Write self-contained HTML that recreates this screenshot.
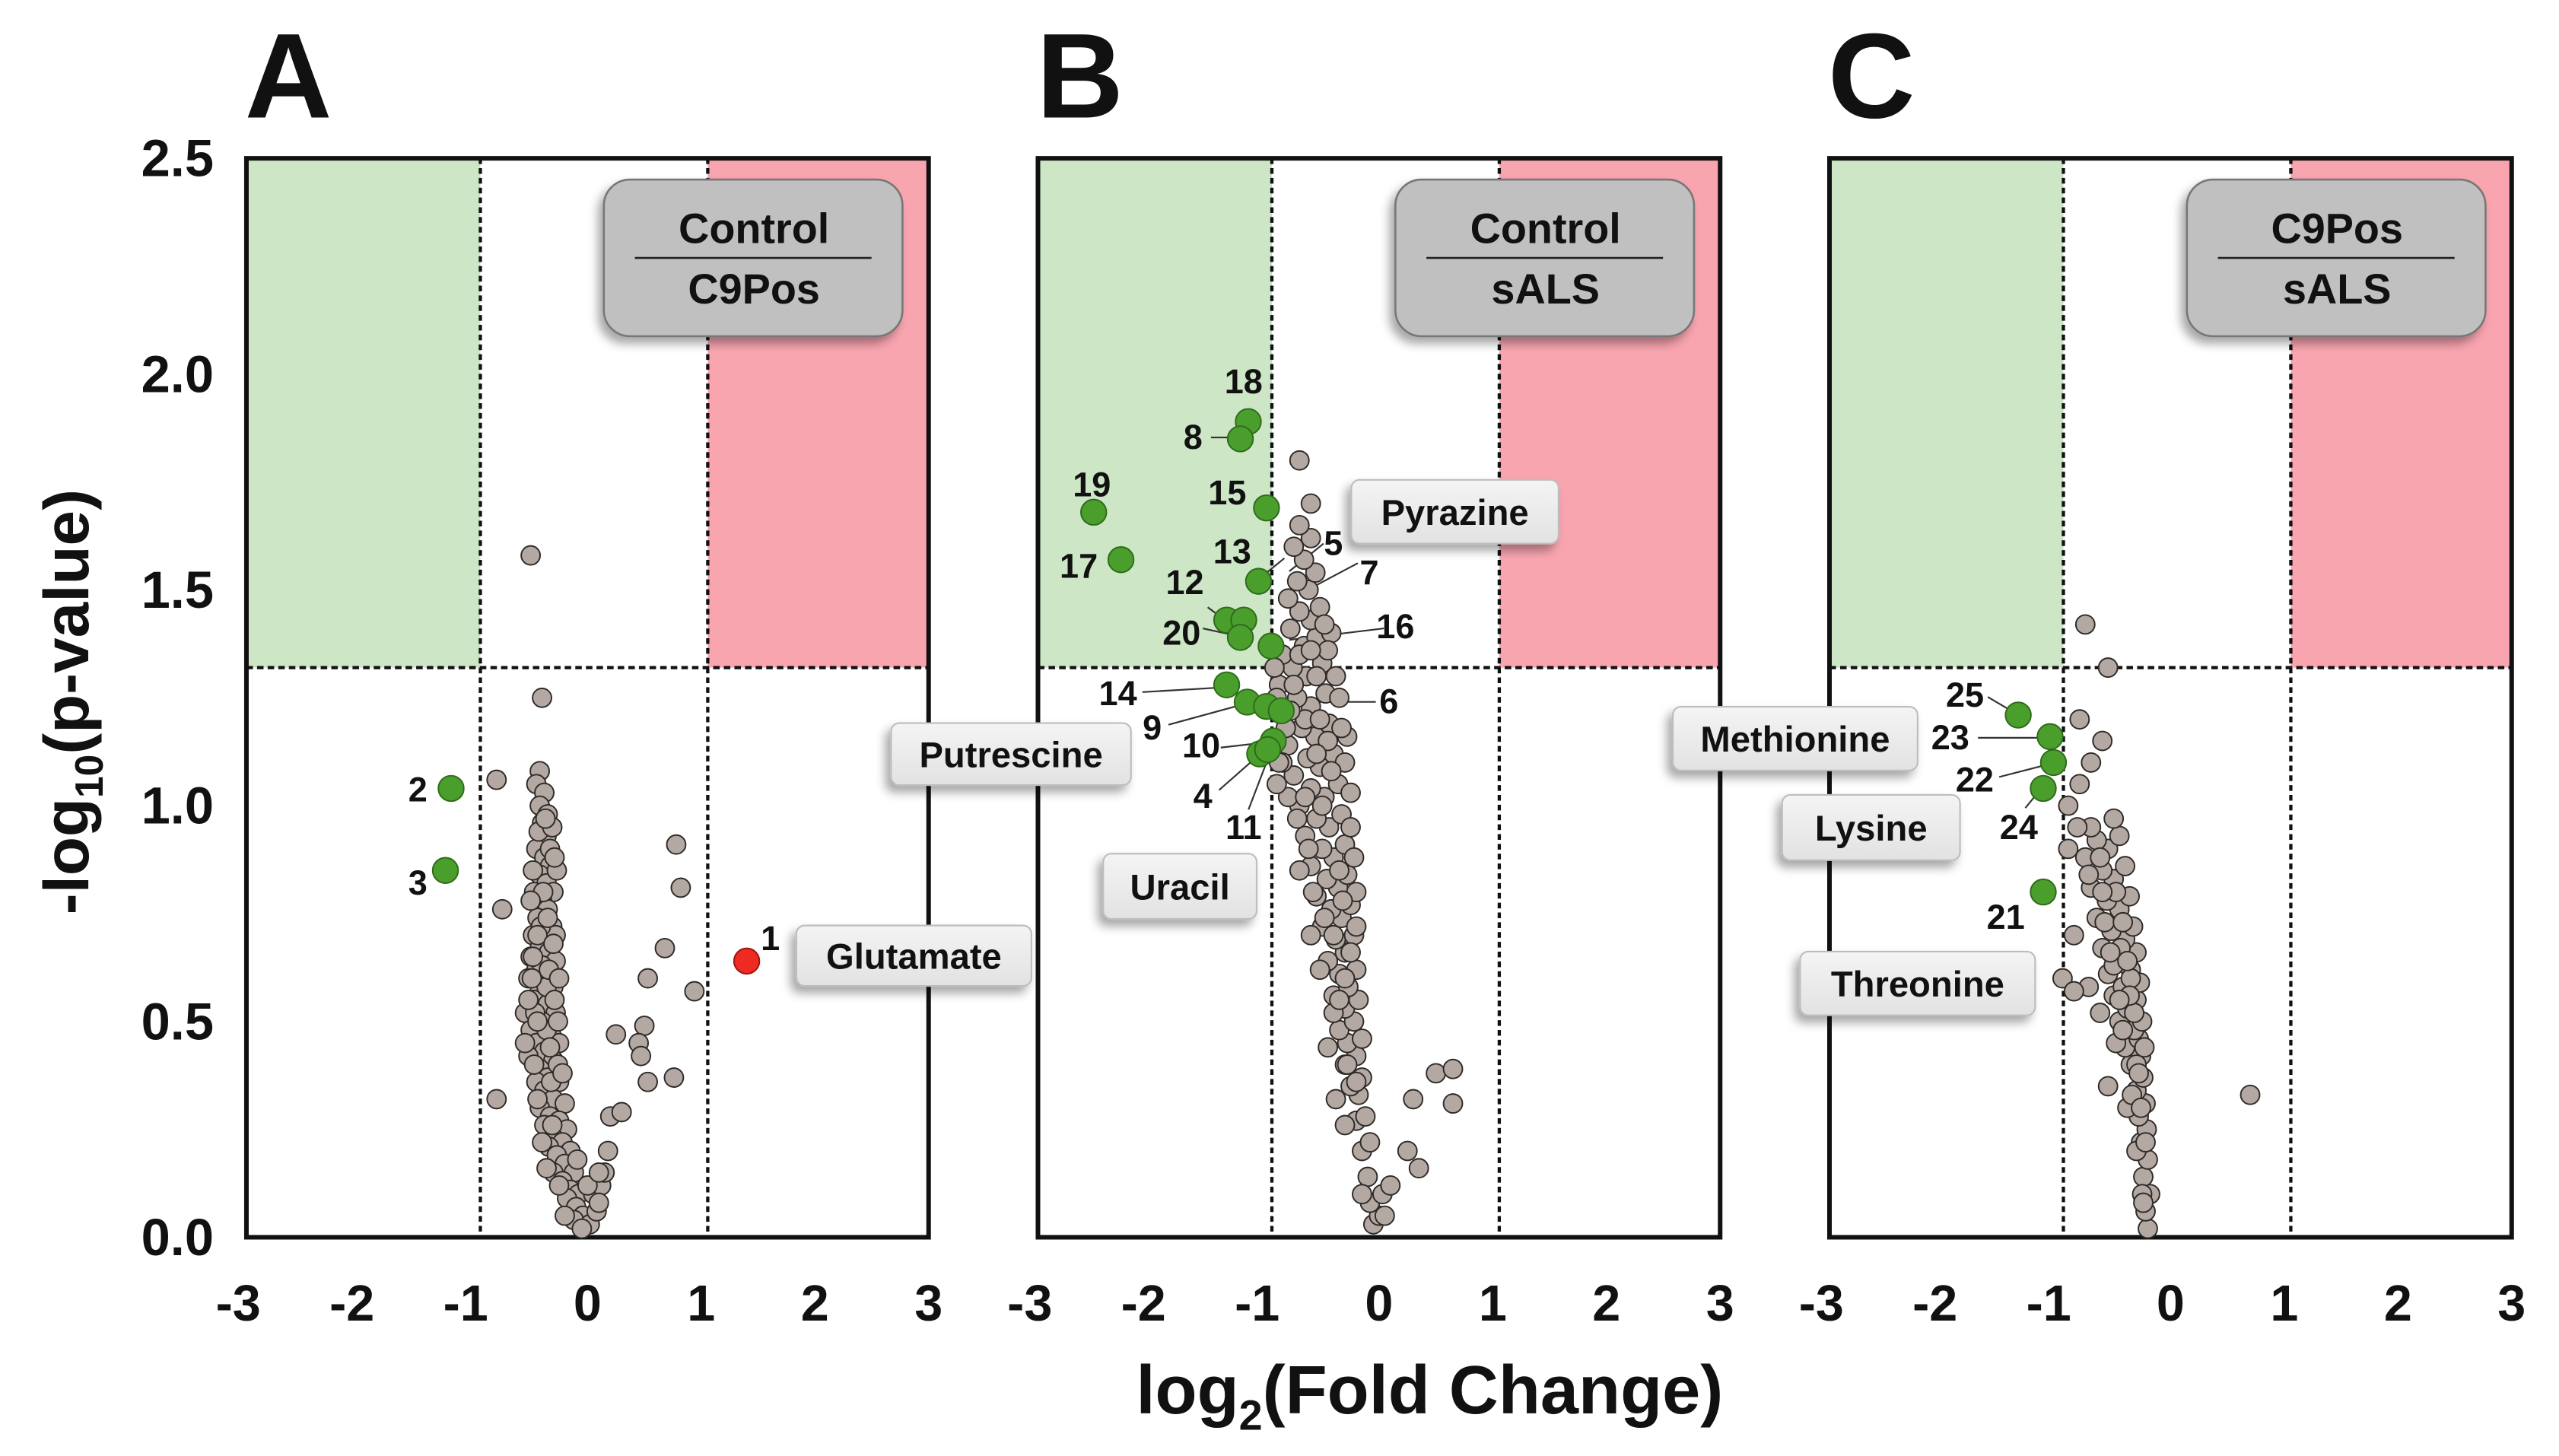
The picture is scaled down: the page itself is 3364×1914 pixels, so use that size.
<!DOCTYPE html>
<html><head><meta charset="utf-8"><style>
html,body{margin:0;padding:0;background:#fff;}
svg{display:block;font-family:"Liberation Sans",Arial,sans-serif;font-weight:bold;}
</style></head><body>
<svg id="chart" width="3364" height="1914" viewBox="0 0 1568 892" preserveAspectRatio="none" xmlns="http://www.w3.org/2000/svg">
<defs>
<filter id="sh" x="-20%" y="-20%" width="150%" height="160%"><feDropShadow dx="-3" dy="4" stdDeviation="3" flood-color="#000" flood-opacity="0.35"/></filter>
<linearGradient id="lg" x1="0" y1="0" x2="0" y2="1"><stop offset="0" stop-color="#f4f4f4"/><stop offset="1" stop-color="#e2e2e2"/></linearGradient>
</defs>
<g id="root"></g>
</svg>
<script>
const xTicks=[-3,-2,-1,0,1,2,3];
const yTicks=[0.0,0.5,1.0,1.5,2.0,2.5];
const yTickLabels=["0.0","0.5","1.0","1.5","2.0","2.5"];
const panelLetters=["A","B","C"];
const panelTitlesTop=["Control","Control","C9Pos"];
const panelTitlesBottom=["C9Pos","sALS","sALS"];
const threshold=1.32;
const fcCut=1;
const grayA=[[-0.42,1.08],[-0.45,1.05],[-0.38,1.03],[-0.42,1.0],[-0.35,0.98],[-0.4,0.96],[-0.36,0.93],[-0.45,0.9],[-0.38,0.88],[-0.33,0.86],[-0.42,0.84],[-0.36,0.82],[-0.47,0.8],[-0.3,0.8],[-0.4,0.78],[-0.35,0.76],[-0.44,0.74],[-0.31,0.72],[-0.48,0.7],[-0.38,0.7],[-0.42,0.67],[-0.34,0.66],[-0.5,0.65],[-0.28,0.64],[-0.45,0.62],[-0.38,0.6],[-0.52,0.6],[-0.3,0.58],[-0.42,0.57],[-0.47,0.55],[-0.35,0.54],[-0.55,0.52],[-0.28,0.52],[-0.4,0.5],[-0.5,0.48],[-0.32,0.47],[-0.45,0.45],[-0.25,0.45],[-0.38,0.43],[-0.52,0.42],[-0.3,0.41],[-0.42,0.39],[-0.35,0.37],[-0.45,0.36],[-0.25,0.36],[-0.38,0.34],[-0.3,0.32],[-0.42,0.3],[-0.2,0.31],[-0.33,0.28],[-0.25,0.27],[-0.38,0.26],[-0.18,0.25],[-0.3,0.23],[-0.22,0.22],[-0.34,0.21],[-0.15,0.2],[-0.27,0.19],[-0.2,0.17],[-0.3,0.15],[-0.12,0.15],[-0.22,0.13],[-0.15,0.11],[-0.08,0.1],[-0.18,0.09],[0.05,0.1],[-0.1,0.07],[0.12,0.12],[-0.04,0.05],[-0.12,0.04],[0.02,0.03],[-0.05,0.02],[0.08,0.06],[0.15,0.15],[0.1,0.08],[-0.4,0.63],[-0.33,0.9],[-0.28,0.7],[-0.46,0.52],[-0.36,0.58],[-0.26,0.4],[-0.44,0.32],[-0.32,0.36],[-0.36,0.48],[-0.48,0.65],[-0.41,0.72],[-0.34,0.62],[-0.29,0.55],[-0.39,0.8],[-0.43,0.94],
[-0.31,0.95],[-0.48,0.85],[-0.27,0.85],[-0.44,0.7],[-0.3,0.68],[-0.52,0.55],[-0.25,0.6],[-0.47,0.4],[-0.22,0.38],[-0.4,0.22],[-0.25,0.12],[-0.09,0.18],[0.0,0.12],[-0.2,0.05],[-0.35,0.74],[-0.5,0.78],[-0.26,0.5],[-0.55,0.45],[-0.33,0.44],[-0.37,0.97],[-0.29,0.88],[-0.49,0.6],[-0.44,0.5],[-0.31,0.26],[-0.36,0.16],
[-0.5,1.58],[-0.4,1.25],[-0.8,1.06],[-0.8,0.32],[-0.75,0.76],[0.78,0.91],[0.82,0.81],[0.68,0.67],[0.94,0.57],[0.53,0.6],[0.25,0.47],[0.5,0.49],[0.45,0.45],[0.47,0.42],[0.53,0.36],[0.76,0.37],[0.2,0.28],[0.3,0.29],[0.18,0.2],[0.1,0.15]];
const greenA=[[-1.2,1.04],[-1.25,0.85]];
const redA=[[1.4,0.64]];
const grayB=[[-0.05,0.03],[0.0,0.05],[-0.08,0.08],[0.03,0.1],[-0.1,0.14],[-0.15,0.2],[-0.08,0.22],[-0.2,0.27],[-0.12,0.28],[-0.18,0.33],[-0.25,0.35],[-0.15,0.37],[-0.3,0.4],[-0.2,0.42],[-0.28,0.45],[-0.15,0.46],[-0.35,0.48],[-0.22,0.5],[-0.3,0.53],[-0.18,0.55],[-0.4,0.56],[-0.27,0.58],[-0.35,0.61],[-0.2,0.62],[-0.45,0.64],[-0.3,0.66],[-0.38,0.69],[-0.22,0.7],[-0.5,0.72],[-0.33,0.74],[-0.42,0.76],[-0.25,0.77],[-0.55,0.79],[-0.36,0.81],[-0.46,0.83],[-0.28,0.84],[-0.6,0.86],[-0.4,0.88],[-0.5,0.9],[-0.3,0.91],[-0.65,0.93],[-0.44,0.95],[-0.55,0.97],[-0.33,0.98],[-0.7,1.0],[-0.48,1.02],[-0.6,1.04],[-0.36,1.05],[-0.75,1.07],[-0.52,1.09],[-0.63,1.11],[-0.4,1.12],[-0.8,1.14],[-0.56,1.16],[-0.68,1.18],[-0.44,1.19],[-0.85,1.21],[-0.6,1.23],[-0.72,1.25],[-0.47,1.26],[-0.88,1.28],[-0.64,1.3],[-0.76,1.32],[-0.5,1.33],[-0.85,1.35],[-0.66,1.37],[-0.55,1.39],[-0.78,1.41],[-0.6,1.43],[-0.7,1.45],[-0.52,1.46],[-0.8,1.48],[-0.62,1.5],[-0.72,1.52],[-0.56,1.54],[-0.66,1.57],[-0.75,1.6],[-0.6,1.62],[-0.7,1.65],[-0.2,0.8],[-0.25,0.95],[-0.3,1.1],[-0.35,1.25],[-0.42,1.4],[-0.5,1.0],[-0.4,0.7],[-0.65,1.2],[-0.55,1.3],[-0.45,1.15],[-0.3,0.6],[-0.7,1.35],[-0.9,1.25],[-0.92,1.32],[-0.35,0.85],
[-0.8,1.02],[-0.72,0.97],[-0.85,1.1],[-0.62,0.9],[-0.7,0.85],[-0.25,1.03],[-0.28,1.16],[-0.38,1.3],[-0.45,1.36],[-0.82,1.18],[-0.58,0.8],[-0.48,0.74],[-0.6,0.7],[-0.52,0.62],[-0.25,0.66],[-0.32,0.78],[-0.4,0.52],[-0.2,0.72],[-0.22,0.88],[-0.45,0.44],[-0.35,0.55],[-0.28,0.4],[-0.38,0.32],[-0.3,0.26],[-0.2,0.36],[-0.55,1.12],[-0.65,1.02],[-0.52,1.2],[-0.75,1.28],[-0.42,1.08],[-0.33,1.18],[-0.6,1.36],[-0.48,1.42],[-0.88,1.1],[-0.9,1.05],[-0.78,1.22],
[-0.7,1.8],[-0.6,1.7],[0.5,0.38],[0.65,0.39],[0.65,0.31],[0.3,0.32],[0.25,0.2],[0.35,0.16],[0.1,0.12],[-0.15,0.1],[0.05,0.05]];
const greenB=[[-1.15,1.89],[-1.22,1.85],[-0.99,1.69],[-2.51,1.68],[-2.27,1.57],[-1.06,1.52],[-1.34,1.43],[-1.19,1.43],[-1.22,1.39],[-0.95,1.37],[-1.34,1.28],[-1.16,1.24],[-0.99,1.23],[-0.86,1.22],[-0.93,1.15],[-1.05,1.12],[-0.98,1.13]];
const grayC=[[-0.2,0.02],[-0.22,0.06],[-0.18,0.1],[-0.24,0.14],[-0.2,0.18],[-0.26,0.22],[-0.21,0.25],[-0.28,0.28],[-0.22,0.31],[-0.3,0.34],[-0.24,0.37],[-0.35,0.4],[-0.26,0.42],[-0.4,0.44],[-0.28,0.46],[-0.32,0.48],[-0.45,0.5],[-0.25,0.5],[-0.38,0.53],[-0.3,0.55],[-0.5,0.56],[-0.42,0.58],[-0.27,0.59],[-0.55,0.61],[-0.35,0.62],[-0.46,0.64],[-0.3,0.66],[-0.6,0.67],[-0.4,0.69],[-0.52,0.71],[-0.33,0.72],[-0.65,0.74],[-0.45,0.76],[-0.56,0.78],[-0.36,0.79],[-0.7,0.81],[-0.5,0.83],[-0.6,0.85],[-0.4,0.86],[-0.75,0.88],[-0.55,0.9],[-0.65,0.92],[-0.45,0.93],[-0.5,0.97],[-0.7,0.95],[-0.35,0.6],[-0.48,0.45],[-0.62,0.52],[-0.3,0.4],[-0.38,0.3],[-0.55,0.35],[-0.72,0.58],[-0.85,0.7],[-0.3,0.2],[-0.25,0.1],
[-0.62,0.88],[-0.72,0.84],[-0.48,0.8],[-0.58,0.73],[-0.44,0.67],[-0.5,0.63],[-0.38,0.64],[-0.32,0.52],[-0.42,0.48],[-0.28,0.38],[-0.34,0.33],[-0.26,0.3],[-0.22,0.22],[-0.24,0.08],[-0.42,0.73],[-0.6,0.8],[-0.53,0.66],[-0.36,0.56],[-0.45,0.55],[-0.23,0.44],
[-0.9,1.0],[-0.82,0.95],[-0.7,1.1],[-0.8,1.05],[-0.95,0.6],[-0.85,0.57],[-0.9,0.9],[-0.8,1.2],[-0.55,1.32],[-0.75,1.42],[0.7,0.33],[-0.6,1.15]];
const greenC=[[-1.34,1.21],[-1.06,1.16],[-1.03,1.1],[-1.12,1.04],[-1.12,0.8]];

const panelLeft=[151,636,1121];
const plotW=418, plotTop=97, plotBottom=758;
const NS="http://www.w3.org/2000/svg";
const root=document.getElementById('root');
function xs(p,v){return panelLeft[p]+(v+3)/6*plotW;}
function ys(v){return plotBottom-(v/2.5)*(plotBottom-plotTop);}
function mk(tag,attrs,parent){const e=document.createElementNS(NS,tag);for(const k in attrs)e.setAttribute(k,attrs[k]);(parent||root).appendChild(e);return e;}

for(let p=0;p<3;p++){
  const g=mk('g',{});
  
  
  let r=mk('rect',{x:xs(p,-3),y:plotTop,width:xs(p,-fcCut)-xs(p,-3)+4,height:ys(threshold)-plotTop,fill:'#cde6c6'},g);
  
  
  r=mk('rect',{x:xs(p,fcCut)+4,y:plotTop,width:xs(p,3)-xs(p,fcCut)-4,height:ys(threshold)-plotTop,fill:'#f9a5b0'},g);
  
  
  [-fcCut,fcCut].forEach(v=>{const l=mk('line',{x1:xs(p,v)+4,x2:xs(p,v)+4,y1:plotTop,y2:plotBottom,stroke:'#111','stroke-width':2,'stroke-dasharray':'3.5,2.5'},g);
    
    });
  const hl=mk('line',{x1:xs(p,-3),x2:xs(p,3),y1:ys(threshold),y2:ys(threshold),stroke:'#111','stroke-width':2,'stroke-dasharray':'4,2.5'},g);
  
  
  const fr=mk('rect',{x:xs(p,-3),y:plotTop,width:plotW,height:plotBottom-plotTop,fill:'none',stroke:'#111','stroke-width':2.8},g);
  
  
  xTicks.forEach(t=>{const tx=mk('text',{x:xs(p,t)-(t<0?5:0),y:809,'font-size':31,'text-anchor':'middle',fill:'#111'},g);tx.textContent=String(t);
    
    });
  const L=mk('text',{x:panelLeft[p]-1,y:72,'font-size':74,fill:'#111'},g);L.textContent=panelLetters[p];
  
  
  const bx=xs(p,3)-199, by=110;
  const b=mk('rect',{x:bx,y:by,width:183,height:96,rx:16,fill:'#c0c0c0',stroke:'#777','stroke-width':1.2,filter:'url(#sh)'},g);
  
  
  mk('line',{x1:bx+19,x2:bx+164,y1:by+48,y2:by+48,stroke:'#222','stroke-width':1.2},g);
  let t1=mk('text',{x:bx+92,y:by+39,'font-size':26,'text-anchor':'middle',fill:'#111'},g);t1.textContent=panelTitlesTop[p];
  
  
  let t2=mk('text',{x:bx+92,y:by+76,'font-size':26,'text-anchor':'middle',fill:'#111'},g);t2.textContent=panelTitlesBottom[p];
  
  
}
yTicks.forEach((t,i)=>{const tx=mk('text',{x:131,y:ys(t)+11,'font-size':32,'text-anchor':'end',fill:'#111'});tx.textContent=yTickLabels[i];
  
  });
const xt=mk('text',{x:876,y:866,'font-size':42,'text-anchor':'middle',fill:'#111'});


xt.innerHTML='log<tspan font-size="26" dy="10">2</tspan><tspan dy="-10">(Fold Change)</tspan>';
const yt=mk('text',{x:0,y:0,'font-size':39,'text-anchor':'middle',fill:'#111',transform:'translate(54,430) rotate(-90)'});


yt.innerHTML='-log<tspan font-size="24" dy="9">10</tspan><tspan dy="-9">(p-value)</tspan>';

const leaders=[[742,268,758,268],[787,342,771,355],[811,333,790,350],[832,345,800,362],[848,385,790,392],[700,424,752,421],[716,444,760,432],[843,430,790,430],[748,458,774,455],[747,484,772,462],[765,496,778,462],[740,372,752,381],[737,385,760,390],[1218,427,1235,437],[1212,452,1255,452],[1225,476,1256,468],[1241,495,1250,484]];
leaders.forEach(l=>{const e=mk('line',{x1:l[0],y1:l[1],x2:l[2],y2:l[3],stroke:'#333','stroke-width':1});
  
  });

function drawPts(p,arr,r,fill,stroke,name){arr.forEach(d=>{const c=mk('circle',{cx:xs(p,d[0]),cy:ys(d[1]),r:r,fill:fill,stroke:stroke,'stroke-width':0.9});
  
  });}
drawPts(0,grayA,5.8,'#b3a8a2','#2e2a28','metabolite-point');
drawPts(1,grayB,5.8,'#b3a8a2','#2e2a28','metabolite-point');
drawPts(2,grayC,5.8,'#b3a8a2','#2e2a28','metabolite-point');
drawPts(0,greenA,7.8,'#4a9e2c','#2d6b1a','decreased-point');
drawPts(1,greenB,7.8,'#4a9e2c','#2d6b1a','decreased-point');
drawPts(2,greenC,7.8,'#4a9e2c','#2d6b1a','decreased-point');
drawPts(0,redA,7.8,'#ee2a22','#9a1510','increased-point');

const numLabels=[["1",472,582],["2",256,491],["3",256,548],["18",762,241],["8",731,275],["19",669,304],["15",752,309],["17",661,354],["13",755,345],["12",726,364],["20",724,395],["5",817,340],["7",839,358],["16",855,391],["14",685,432],["9",706,453],["6",851,437],["10",736,464],["4",737,495],["11",762,514],["25",1204,433],["23",1195,459],["22",1210,485],["24",1237,514],["21",1229,569]];
numLabels.forEach(n=>{const t=mk('text',{x:n[1],y:n[2],'font-size':21,'text-anchor':'middle',fill:'#111'});t.textContent=n[0];
  
  });

const nameBoxes=[["Glutamate",488,567,144,37],["Putrescine",546,443,147,38],["Pyrazine",828,294,127,39],["Uracil",676,523,94,40],["Methionine",1025,433,150,39],["Lysine",1092,487,109,40],["Threonine",1103,583,144,39]];
nameBoxes.forEach(b=>{const g=mk('g',{});
  
  
  mk('rect',{x:b[1],y:b[2],width:b[3],height:b[4],rx:5,fill:'url(#lg)',stroke:'#bdbdbd','stroke-width':1,filter:'url(#sh)'},g);
  const t=mk('text',{x:b[1]+b[3]/2,y:b[2]+b[4]/2+8,'font-size':22,'text-anchor':'middle',fill:'#111'},g);t.textContent=b[0];});
</script>
</body></html>
